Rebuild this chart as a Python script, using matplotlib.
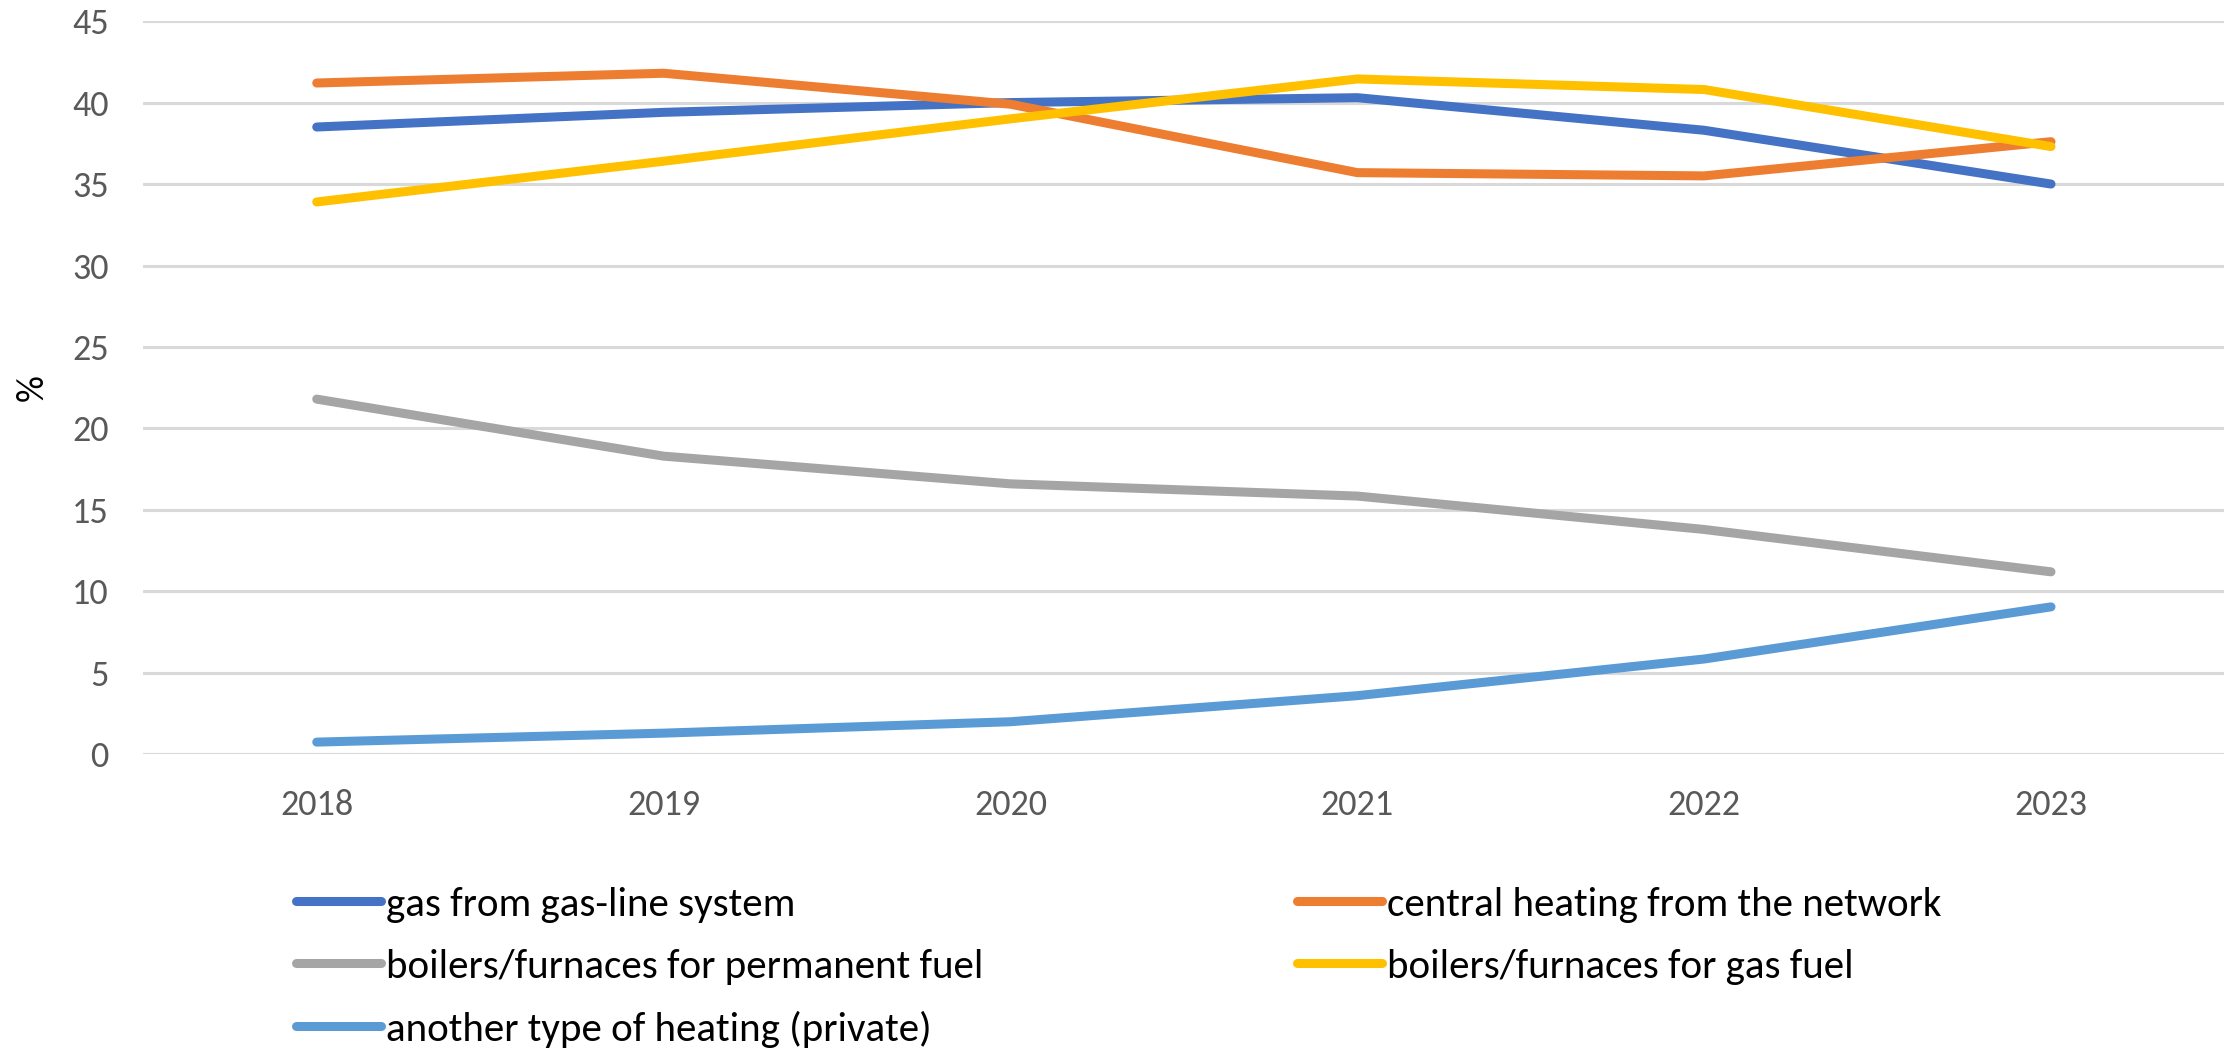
import matplotlib
matplotlib.use("Agg")
import matplotlib.pyplot as plt
from matplotlib import font_manager

# pick a narrow font close to Calibri
names = {f.name for f in font_manager.fontManager.ttflist}
for fam in ["Carlito", "Liberation Sans Narrow", "Open Sans", "DejaVu Sans"]:
    if fam in names:
        plt.rcParams["font.family"] = fam
        break

years = ["2018", "2019", "2020", "2021", "2022", "2023"]
gas_line = [38.5, 39.4, 40.0, 40.3, 38.3, 35.0]
central = [41.2, 41.8, 39.9, 35.7, 35.5, 37.6]
permanent_fuel = [21.8, 18.3, 16.6, 15.85, 13.8, 11.2]
gas_fuel = [33.9, 36.4, 39.0, 41.45, 40.8, 37.3]
other = [0.75, 1.3, 2.0, 3.6, 5.85, 9.05]

series = [
    ("gas from gas-line system", gas_line, "#4472C4"),
    ("central heating from the network", central, "#ED7D31"),
    ("boilers/furnaces for permanent fuel", permanent_fuel, "#A5A5A5"),
    ("boilers/furnaces for gas fuel", gas_fuel, "#FFC000"),
    ("another type of heating (private)", other, "#5B9BD5"),
]

fig = plt.figure(figsize=(22.39, 10.55), dpi=100)
ax = fig.add_axes([0.064, 0.285, 0.9295, 0.695])

x = list(range(len(years)))
handles = {}
for label, vals, color in series:
    line, = ax.plot(x, vals, color=color, lw=6.5, label=label,
                    solid_capstyle="round", solid_joinstyle="round")
    handles[label] = line

ax.set_xlim(-0.5, len(years) - 0.5)
ax.set_ylim(0, 45)
ax.set_yticks(range(0, 46, 5))
ax.set_xticks(x)
ax.set_xticklabels(years)
ax.yaxis.grid(True, color="#D9D9D9", lw=2.2)
ax.set_axisbelow(True)
for s in ax.spines.values():
    s.set_visible(False)
ax.tick_params(axis="both", length=0, labelsize=26, colors="#595959")
ax.tick_params(axis="y", pad=25)
ax.tick_params(axis="x", pad=25)
fig.text(0.0145, 1 - 388 / 1055, "%", rotation=90, fontsize=27,
         color="black", ha="center", va="center")

leg_kw = dict(loc="upper left", frameon=False, fontsize=29.5,
              handlelength=2.07, handletextpad=0.12, labelspacing=0.63,
              borderpad=0, borderaxespad=0)
left_labels = [series[0][0], series[2][0], series[4][0]]
right_labels = [series[1][0], series[3][0]]
fig.legend([handles[l] for l in left_labels], left_labels,
           bbox_to_anchor=(0.1322, 0.1595), **leg_kw)
fig.legend([handles[l] for l in right_labels], right_labels,
           bbox_to_anchor=(0.5793, 0.1595), **leg_kw)

fig.savefig("out.png", dpi=100)
